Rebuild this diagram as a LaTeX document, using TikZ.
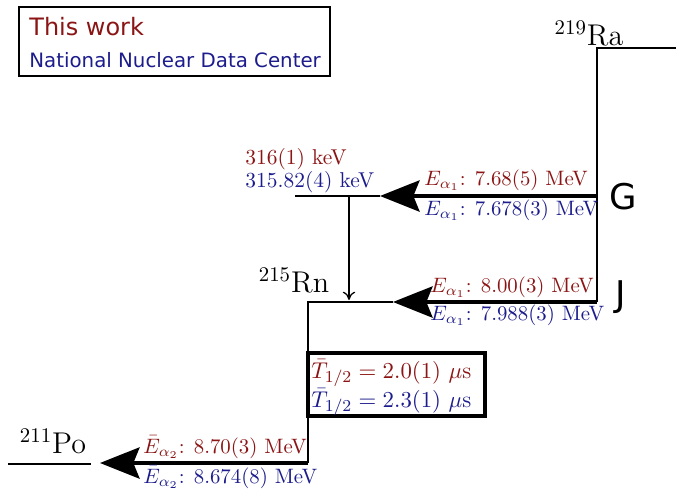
\documentclass[tikz,border=0pt]{standalone}
\usepackage{fontspec}
\setsansfont{DejaVu Sans}
\usetikzlibrary{positioning,
        arrows.meta}
\usepackage{amsmath}
\usepackage{xcolor}
\definecolor{thiswork}{RGB}{139,20,20}
\definecolor{nndc}{RGB}{28,28,140}

\begin{document}
\begin{tikzpicture}[x=0.48pt,y=0.48pt,
        lvl/.style={line width=0.9pt},
        alphadecay/.style={line width=1.6pt,-{Stealth[length=19pt,width=15pt,inset=3pt]}},
        redlbl/.style={text=thiswork,inner sep=0pt,anchor=base west,font=\fontsize{10}{12}\selectfont},
        bluelbl/.style={text=nndc,inner sep=0pt,anchor=base west,font=\fontsize{10}{12}\selectfont},
        nucl/.style={inner sep=0pt,anchor=base,font=\fontsize{14.4}{17}\selectfont},
        branch/.style={inner sep=0pt,anchor=base,font=\sffamily\fontsize{17}{20}\selectfont}]
            \useasboundingbox (0,0) rectangle (676,491);

            \coordinate (ra0) at (597,443);
            \coordinate (ra1) at (676,443);
            \coordinate (g) at (597,295);
            \coordinate (j) at (597,189);
            \coordinate (ex0) at (295,295);
            \coordinate (ex1) at (380,295);
            \coordinate (gam0) at (349,295);
            \coordinate (gam1) at (349,191);
            \coordinate (rn0) at (308,189);
            \coordinate (rn1) at (393,189);
            \coordinate (rnb) at (308,28);
            \coordinate (po0) at (8,27);
            \coordinate (po1) at (91,27);
            \coordinate (potip) at (100,28);

            % levels
            \draw [lvl] (ra1) -- (ra0) -- (j);
            \draw [lvl] (ex0) -- (ex1);
            \draw [lvl] (rn1) -- (rn0) -- (rnb);
            \draw [lvl] (po0) -- (po1);

            % decays
            \draw [alphadecay] (g) -- (ex1);
            \draw [alphadecay] (j) -- (rn1);
            \draw [alphadecay] (rnb) -- (potip);
            \draw [-{To[length=4pt,width=6pt]}, line width=0.6pt] (gam0) -- (gam1);

            \node [nucl] (ra) at (589,446) {$^{219}$Ra};
            \node [nucl] (rn) at (294,199) {$^{215}$Rn};
            \node [nucl] (po) at (53,38) {$^{211}$Po};
            \node [branch] (glbl) at (623,282) {G};
            \node [branch] (jlbl) at (621,185) {J};

            \node [redlbl,font=\fontsize{10.3}{12}\selectfont] (exr) at (245,327) {316(1) keV};
            \node [bluelbl,font=\fontsize{10.3}{12}\selectfont] (exb) at (245,304) {315.82(4) keV};
            \node [redlbl] (gr) at (424,306) {$E_{\alpha_1}$: 7.68(5) MeV};
            \node [bluelbl] (gb) at (424,276) {$E_{\alpha_1}$: 7.678(3) MeV};
            \node [redlbl] (jr) at (430,199) {$E_{\alpha_1}$: 8.00(3) MeV};
            \node [bluelbl] (jb) at (430,171) {$E_{\alpha_1}$: 7.988(3) MeV};
            \node [redlbl] (por) at (143,38) {$\bar{E}_{\alpha_2}$: 8.70(3) MeV};
            \node [bluelbl] (pob) at (143,8) {$\bar{E}_{\alpha_2}$: 8.674(8) MeV};

            % half-life box
            \coordinate (tb0) at (308,138);
            \coordinate (tb1) at (485,75);
            \draw [line width=1.5pt] (tb0) rectangle (tb1);
            \node [redlbl,font=\fontsize{11.2}{14}\selectfont] (tr) at (311,113) {$\bar{T}_{1/2} = 2.0(1)~\mu$s};
            \node [bluelbl,font=\fontsize{11.2}{14}\selectfont] (tb) at (311,84) {$\bar{T}_{1/2} = 2.3(1)~\mu$s};

            % legend
            \coordinate (lg0) at (19,484);
            \coordinate (lg1) at (330,415);
            \draw [line width=1pt] (lg0) rectangle (lg1);
            \node [redlbl,font=\sffamily\fontsize{11.5}{14}\selectfont] (lw) at (29,456) {This work};
            \node [bluelbl,font=\sffamily\fontsize{9.5}{11}\selectfont] (ln) at (29,424) {National Nuclear Data Center};
        \end{tikzpicture}
\end{document}
